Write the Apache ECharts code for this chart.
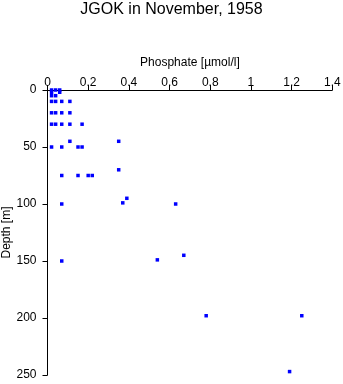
<!DOCTYPE html>
<html>
<head>
<meta charset="utf-8">
<script src="https://cdn.jsdelivr.net/npm/echarts@6/dist/echarts.min.js"></script>
<style>
html,body{margin:0;padding:0;background:#fff;}
#c{width:343px;height:384px;}
</style>
</head>
<body>
<div id="c"></div>
<script>
var titleText = "JGOK in November, 1958";
var xName = "Phosphate [\u00b5mol/l]";
var yName = "Depth [m]";
var phosphate = [0.02,0.04,0.06, 0.02,0.06, 0.02,0.04,
  0.02,0.04,0.07,0.11, 0.02,0.04,0.07,0.11, 0.02,0.04,0.07,0.11,0.17,
  0.11,0.35, 0.02,0.07,0.15,0.17, 0.35, 0.07,0.15,0.20,0.22,
  0.39, 0.37, 0.07,0.63, 0.67, 0.54, 0.07, 0.78,1.25, 1.19];
var depth = [0,0,0, 2,2, 5,5,
  10,10,10,10, 20,20,20,20, 30,30,30,30,30,
  45,45, 50,50,50,50, 70, 75,75,75,75,
  95, 99, 100,100, 145, 149, 150, 198,198, 247];

var pts = phosphate.map(function(v,i){return [v, depth[i]];});
var font = "Liberation Sans";
var chart = echarts.init(document.getElementById('c'), null, {renderer:'canvas'});
chart.setOption({
  animation:false,
  backgroundColor:'#fff',
  title:{text:titleText,left:'center',top:-3,textStyle:{fontFamily:font,fontSize:16,fontWeight:'normal',color:'#000'}},
  grid:{left:47.5,top:90,right:10.7,bottom:9,containLabel:false,outerBoundsMode:'none'},
  xAxis:{type:'value',position:'top',min:0,max:1.4,interval:0.2,
    name:xName,nameLocation:'middle',nameGap:21,nameMoveOverlap:false,
    nameTextStyle:{fontFamily:font,fontSize:12,color:'#000'},
    axisLine:{show:true,onZero:false,lineStyle:{color:'#000',width:1}},
    axisTick:{show:true,length:5,inside:false,lineStyle:{color:'#000'}},
    axisLabel:{fontFamily:font,fontSize:12,color:'#000',margin:1,
      formatter:function(v){return String(Math.round(v*10)/10);}},
    splitLine:{show:false}},
  yAxis:{type:'value',inverse:true,min:0,max:250,interval:50,
    name:yName,nameLocation:'middle',nameGap:35,nameMoveOverlap:false,
    nameTextStyle:{fontFamily:font,fontSize:12,color:'#000'},
    axisLine:{show:true,onZero:false,lineStyle:{color:'#000',width:1}},
    axisTick:{show:true,length:5,lineStyle:{color:'#000'}},
    axisLabel:{fontFamily:font,fontSize:12,color:'#000',margin:11},
    splitLine:{show:false}},
  series:[{type:'scatter',data:pts,symbol:'rect',symbolSize:3.5,
    itemStyle:{color:'#0000ff',opacity:1}}]
});
</script>
</body>
</html>
